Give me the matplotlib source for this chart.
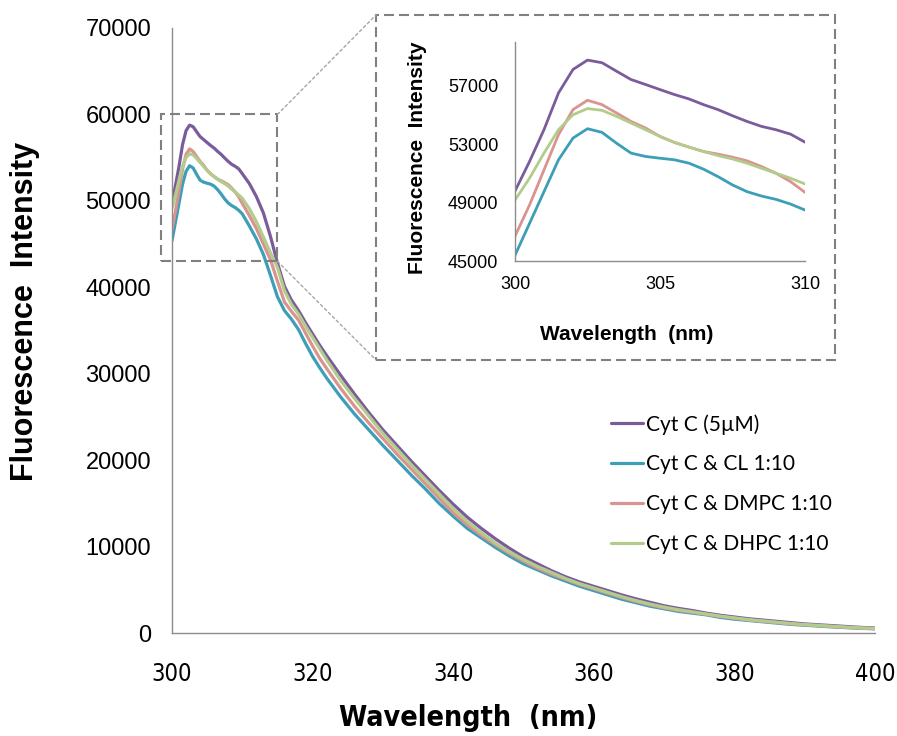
import matplotlib

matplotlib.use("Agg")
import matplotlib.pyplot as plt
from matplotlib.patches import ConnectionPatch, Rectangle


wavelength = [
    300, 300.5, 301, 301.5, 302, 302.5, 303, 303.5, 304, 304.5, 305,
    305.5, 306, 306.5, 307, 307.5, 308, 308.5, 309, 309.5, 310,
    311, 312, 313, 314, 315, 316, 317, 318, 319, 320, 321, 322,
    324, 326, 328, 330, 332, 334, 336, 338, 340, 342, 344, 346, 348, 350,
    352, 354, 356, 358, 360, 362, 364, 366, 368, 370, 372, 374, 376, 378,
    380, 382, 384, 386, 388, 390, 392, 394, 396, 398, 400,
]

cyt_c = [
    49790, 51810, 54000, 56510, 58120, 58760, 58580, 58000, 57430, 57090, 56740,
    56400, 56100, 55710, 55370, 54950, 54560, 54220, 53990, 53690, 53140,
    52000, 50500, 48600, 45900, 42800, 40100, 38500, 37300, 35900, 34600, 33300, 32100,
    29800, 27600, 25500, 23500, 21700, 19900, 18200, 16500, 14900, 13400, 12100, 10900,
    9800, 8800, 8000, 7200, 6500, 5900, 5400, 4900, 4400, 3950, 3550, 3150, 2850,
    2600, 2300, 2050, 1850, 1650, 1500, 1350, 1200, 1050, 950, 850, 750, 650, 580,
]

cyt_c_cl = [
    45390, 47570, 49750, 51930, 53420, 54060, 53810, 53070, 52390, 52160, 52040,
    51930, 51700, 51290, 50780, 50210, 49750, 49450, 49220, 48900, 48490,
    47100, 45600, 43800, 41400, 38900, 37300, 36300, 35100, 33500, 32000, 30700, 29500,
    27300, 25300, 23500, 21700, 20000, 18300, 16700, 15000, 13500, 12100, 11000, 9900,
    8900, 8000, 7300, 6600, 6000, 5400, 4900, 4400, 3900, 3500, 3100, 2800, 2500,
    2300, 2100, 1800, 1600, 1450, 1300, 1150, 1000, 900, 800, 700, 620, 540, 480,
]

cyt_c_dmpc = [
    46700, 48830, 51240, 53650, 55370, 56010, 55710, 55140, 54560, 54110, 53530,
    53120, 52800, 52500, 52320, 52110, 51860, 51470, 51010, 50440, 49700,
    48300, 46800, 45000, 43200, 40700, 38300, 37200, 36200, 34700, 33200, 31800, 30600,
    28300, 26200, 24300, 22500, 20700, 19000, 17300, 15600, 13900, 12500, 11300, 10200,
    9200, 8300, 7500, 6800, 6200, 5600, 5100, 4600, 4100, 3650, 3250, 2900, 2600,
    2400, 2150, 1900, 1700, 1500, 1350, 1200, 1050, 950, 850, 750, 650, 570, 500,
]

cyt_c_dhpc = [
    49170, 50670, 52390, 53990, 55020, 55440, 55320, 54910, 54450, 53990, 53530,
    53120, 52800, 52500, 52220, 51990, 51700, 51350, 51010, 50670, 50280,
    49100, 47600, 45800, 44000, 42300, 39600, 38000, 36900, 35500, 34200, 32900, 31600,
    29200, 27100, 25100, 23100, 21300, 19500, 17800, 16100, 14400, 12900, 11600, 10400,
    9400, 8500, 7700, 7000, 6300, 5700, 5200, 4700, 4200, 3750, 3350, 3000, 2700,
    2450, 2200, 1950, 1750, 1550, 1400, 1250, 1100, 970, 870, 770, 670, 590, 520,
]

labels = ["Cyt C (5\u00b5M)", "Cyt C & CL 1:10", "Cyt C & DMPC 1:10", "Cyt C & DHPC 1:10"]
colors = ["#7a5c9b", "#3d9eb8", "#d99490", "#b3cc8c"]

main_xticks = [300, 320, 340, 360, 380, 400]
main_yticks = [0, 10000, 20000, 30000, 40000, 50000, 60000, 70000]
inset_xticks = [300, 305, 310]
inset_yticks = [45000, 49000, 53000, 57000]

W, H = 897, 736


def fx(px: float) -> float:
    return px / W


def fy(py: float) -> float:
    return 1 - py / H


def style_axes(ax, tick_font, xpad, ypad, xfont=None):
    for side in ("top", "right"):
        ax.spines[side].set_visible(False)
    for side in ("left", "bottom"):
        ax.spines[side].set_color("#8c8c8c")
        ax.spines[side].set_linewidth(1.0)
    ax.tick_params(axis="both", length=0)
    ax.tick_params(axis="x", pad=xpad)
    ax.tick_params(axis="y", pad=ypad)
    for lab in ax.get_yticklabels():
        lab.set_fontproperties(tick_font)
    for lab in ax.get_xticklabels():
        lab.set_fontproperties(xfont or tick_font)


fig = plt.figure(figsize=(W / 100, H / 100), dpi=100)

# main chart
ax = fig.add_axes([fx(172), fy(633), fx(875) - fx(172), fy(28) - fy(633)])
series = [cyt_c, cyt_c_cl, cyt_c_dmpc, cyt_c_dhpc]
for values, label, color in zip(series, labels, colors):
    ax.plot(wavelength, values, color=color, lw=2.3, label=label, solid_capstyle="round")
ax.set_xlim(300, 400)
ax.set_ylim(0, 70000)
ax.set_xticks(main_xticks)
ax.set_yticks(main_yticks)
style_axes(
    ax,
    {"family": ["Liberation Sans", "DejaVu Sans"], "size": 17},
    xpad=21,
    ypad=15,
    xfont={"family": ["Liberation Sans Narrow", "DejaVu Sans"], "stretch": "condensed", "size": 17},
)

fig.text(fx(468), fy(718), "Wavelength  (nm)", ha="center", va="center",
         family=["Liberation Sans Narrow", "DejaVu Sans"], stretch="condensed",
         weight="bold", size=20.5)
fig.text(fx(25), fy(311), "Fluorescence  Intensity", ha="center", va="center",
         rotation=90, family=["Liberation Sans", "DejaVu Sans"], weight="bold", size=22)

ax.legend(loc="upper left", bbox_to_anchor=(fx(611), fy(414)), bbox_transform=fig.transFigure,
          frameon=False, borderpad=0, borderaxespad=0, handlelength=1.55,
          handletextpad=0.15, labelspacing=0.95,
          prop={"family": ["Lato", "DejaVu Sans"], "size": 15})

# zoom box on the main chart
dash_box = (0, (4.8, 2.4))
ax.add_patch(Rectangle((298.5, 43000), 16.5, 17000, fill=False, edgecolor="#808080",
                       lw=1.5, ls=dash_box, clip_on=False, zorder=5))

# inset frame and connectors
box_l, box_t, box_r, box_b = 376, 15, 835, 360
fig.add_artist(Rectangle((fx(box_l), fy(box_b)), fx(box_r) - fx(box_l), fy(box_t) - fy(box_b),
                         transform=fig.transFigure, fill=False, edgecolor="#808080",
                         lw=1.5, ls=dash_box))
for ya, yb in ((60000, box_t), (43000, box_b)):
    fig.add_artist(ConnectionPatch(xyA=(315, ya), coordsA=ax.transData,
                                   xyB=(fx(box_l), fy(yb)), coordsB=fig.transFigure,
                                   color="#a6a6a6", lw=1.0, ls=(0, (2, 2))))

# inset chart
axin = fig.add_axes([fx(515), fy(261), fx(805) - fx(515), fy(42) - fy(261)])
for values, color in zip(series, colors):
    axin.plot(wavelength, values, color=color, lw=2.0)
axin.set_xlim(300, 310)
axin.set_ylim(45000, 60000)
axin.set_xticks(inset_xticks)
axin.set_yticks(inset_yticks)
style_axes(axin, {"family": ["Liberation Sans", "DejaVu Sans"], "size": 13}, xpad=11, ypad=12)

fig.text(fx(627), fy(335), "Wavelength  (nm)", ha="center", va="center",
         family=["Liberation Sans", "DejaVu Sans"], weight="bold", size=15)
fig.text(fx(417), fy(158), "Fluorescence  Intensity", ha="center", va="center", rotation=90,
         family=["Liberation Sans", "DejaVu Sans"], weight="bold", size=15)

fig.savefig("out.png", dpi=100)
